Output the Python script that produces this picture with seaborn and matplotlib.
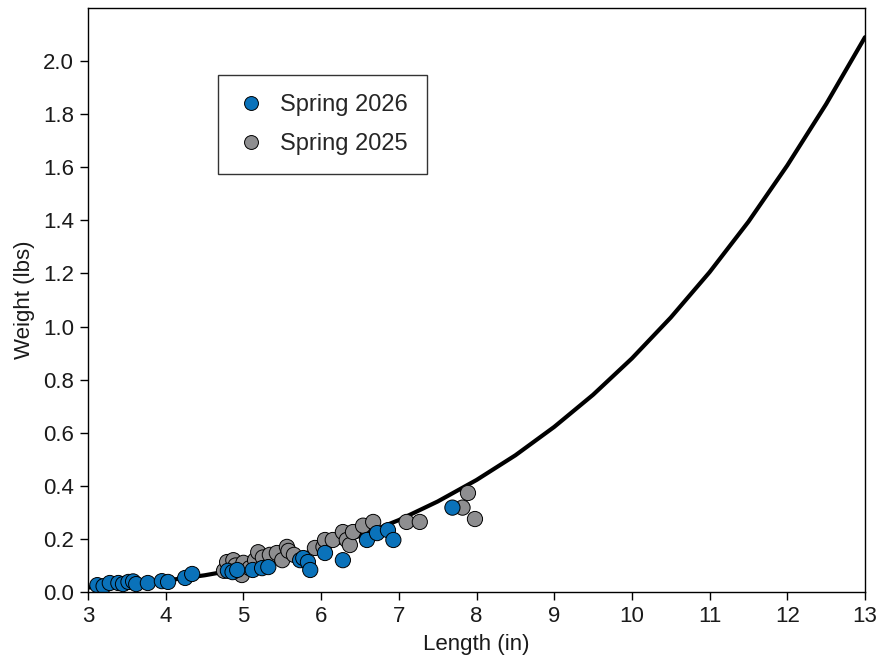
import numpy as np
import pandas as pd
import seaborn as sns
import matplotlib as mpl
import matplotlib.pyplot as plt
from matplotlib.lines import Line2D

# length-weight curve
curve_len = [3.0, 3.5, 4.0, 4.5, 5.0, 5.5, 6.0, 6.5, 7.0, 7.5, 8.0, 8.5, 9.0,
             9.5, 10.0, 10.5, 11.0, 11.5, 12.0, 12.5, 13.0]
curve_wt = [0.017, 0.028, 0.043, 0.063, 0.089, 0.122, 0.163, 0.212, 0.271,
            0.341, 0.422, 0.515, 0.622, 0.743, 0.880, 1.034, 1.205, 1.395,
            1.607, 1.838, 2.090]

# Spring 2025 fish
len_2025 = [4.75, 4.79, 4.87, 4.90, 4.98, 5.00, 5.08, 5.15, 5.19, 5.25, 5.34,
            5.43, 5.50, 5.56, 5.58, 5.65, 5.92, 6.03, 6.05, 6.15, 6.28, 6.33,
            6.37, 6.41, 6.54, 6.67, 7.10, 7.27, 7.82, 7.89, 7.98]
wt_2025 = [0.080, 0.113, 0.120, 0.100, 0.064, 0.110, 0.090, 0.120, 0.150,
           0.130, 0.140, 0.147, 0.120, 0.170, 0.155, 0.140, 0.166, 0.170,
           0.196, 0.196, 0.226, 0.196, 0.177, 0.226, 0.250, 0.264, 0.264,
           0.264, 0.318, 0.373, 0.275]

# Spring 2026 fish
len_2026 = [3.12, 3.20, 3.28, 3.39, 3.45, 3.52, 3.58, 3.62, 3.77, 3.95, 4.03,
            4.25, 4.34, 4.80, 4.86, 4.92, 5.12, 5.24, 5.32, 5.73, 5.77, 5.83,
            5.86, 6.05, 6.28, 6.59, 6.72, 6.86, 6.93, 7.69]
wt_2026 = [0.026, 0.022, 0.034, 0.034, 0.030, 0.038, 0.040, 0.030, 0.034,
           0.041, 0.038, 0.053, 0.068, 0.080, 0.075, 0.083, 0.083, 0.090,
           0.094, 0.120, 0.128, 0.113, 0.083, 0.147, 0.120, 0.196, 0.222,
           0.233, 0.196, 0.318]

seasons = ['Spring 2026', 'Spring 2025']
colors = ['#0A72BA', '#8E8E90']

sns.set_theme(style='white')
mpl.rcParams['font.family'] = ['Liberation Sans', 'DejaVu Sans']

df = pd.concat([
    pd.DataFrame({'length': len_2025, 'weight': wt_2025, 'season': seasons[1]}),
    pd.DataFrame({'length': len_2026, 'weight': wt_2026, 'season': seasons[0]}),
])
curve = pd.DataFrame({'length': curve_len, 'weight': curve_wt})

fig = plt.figure(figsize=(8.83, 6.62), dpi=100)
ax = fig.add_axes([0.0997, 0.1057, 0.8799, 0.8822])

sns.lineplot(data=curve, x='length', y='weight', color='black', lw=3, ax=ax, zorder=1)
sns.scatterplot(data=df, x='length', y='weight', hue='season',
                palette=dict(zip(seasons, colors)), s=120, edgecolor='black',
                linewidth=0.7, ax=ax, zorder=2, legend=False)

ax.set_xlim(3, 13)
ax.set_ylim(0, 2.2)
ax.set_xticks(range(3, 14))
ax.set_yticks(np.arange(0, 2.01, 0.2))
ax.set_yticklabels(['%.1f' % v for v in np.arange(0, 2.01, 0.2)])
ax.tick_params(axis='both', which='both', direction='out', length=6, width=1,
               color='black', labelsize=16, labelcolor='#1a1a1a', pad=4,
               bottom=True, left=True)
for sp in ax.spines.values():
    sp.set_color('black')
    sp.set_linewidth(1)
ax.set_xlabel('Length (in)', fontsize=16, color='#1a1a1a', labelpad=5)
ax.set_ylabel('Weight (lbs)', fontsize=16, color='#1a1a1a', labelpad=6)

handles = [Line2D([], [], ls='', marker='o', markersize=10, markerfacecolor=c,
                  markeredgecolor='black', markeredgewidth=0.7) for c in colors]
leg = ax.legend(handles, seasons, loc='upper left', bbox_to_anchor=(0.167, 0.885),
                borderaxespad=0, fontsize=17, frameon=True, fancybox=False,
                borderpad=0.8, handletextpad=0.65, labelspacing=0.72,
                handlelength=1.2)
leg.get_frame().set_edgecolor('black')
leg.get_frame().set_linewidth(1)

fig.savefig('out.png', dpi=100)
